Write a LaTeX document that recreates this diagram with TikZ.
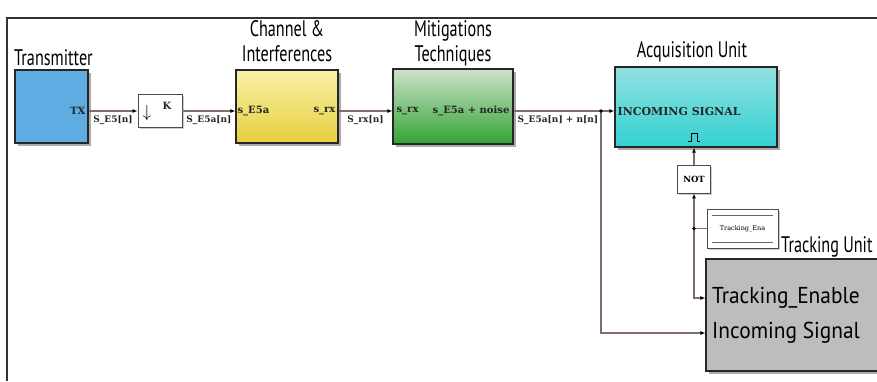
\documentclass[tikz,border=0pt]{standalone}
\usepackage{fontspec}
\setmainfont{DejaVu Serif}
\newfontfamily\titlefont[FakeStretch=0.72]{PT Sans}
\newfontfamily\unitfont[FakeStretch=0.93]{PT Sans}
\usetikzlibrary{arrows.meta}
\usetikzlibrary{shadows}
\definecolor{wirecol}{RGB}{128,110,110}
\definecolor{txblue}{RGB}{95,172,226}
\begin{document}
\begin{tikzpicture}[x=1pt,y=-1pt,
		blocknode/.style={
		% The shape:
		rectangle,
		inner sep=0pt,
		% The border:
		draw=black!85,
		line width=1.2pt,
		% The shadow:
		drop shadow={shadow xshift=2.5pt,shadow yshift=-2.5pt,fill=black!55,opacity=.6}
		},
		plainnode/.style={
		rectangle,
		inner sep=0pt,
		draw=black!70,
		line width=0.9pt,
		fill=white,
		drop shadow={shadow xshift=1.5pt,shadow yshift=-1.5pt,fill=black!40,opacity=.5}
		},
		titlenode/.style={font=\titlefont\fontsize{22.5}{25}\selectfont, align=center, inner sep=0pt},
		unitnode/.style={font=\unitfont\fontsize{23}{27}\selectfont, inner sep=0pt},
		portnode/.style={font=\bfseries\fontsize{10}{11}\selectfont, text=black!85, inner sep=0pt},
		wirelabel/.style={font=\bfseries\fontsize{9}{10}\selectfont, text=black!85, inner sep=0pt},
		wire/.style={draw=wirecol, line width=1.1pt, -{Latex[length=5pt,width=4pt,color=black]}}
	]
	\useasboundingbox (0,0) rectangle (877,381);
	% frame
	\draw[line width=1.2pt, black!80] (7,381) -- (7,18) -- (877,18);

	% blocks
	\node (TX)[blocknode, fill=txblue, minimum width=73pt, minimum height=73pt] at (51.5,106.5) {};
	\node (K)[plainnode, minimum width=44pt, minimum height=33pt] at (160,111) {};
	\node (CH)[blocknode, top color=yellow!30!white!90!brown, bottom color=yellow!55!brown!85, minimum width=102pt, minimum height=73pt] at (287,106.5) {};
	\node (MIT)[blocknode, top color=green!45!black!20!white, bottom color=green!55!black!80, minimum width=120pt, minimum height=75pt] at (453,106.5) {};
	\node (ACQ)[blocknode, top color=cyan!35!white!88!black, bottom color=cyan!55!teal!80, minimum width=162pt, minimum height=80pt] at (696,107) {};
	\node (NOT)[plainnode, minimum width=33pt, minimum height=28pt, font=\bfseries\fontsize{8.5}{9}\selectfont] at (694,179) {NOT};
	\node (ENA)[plainnode, minimum width=71pt, minimum height=39pt, font=\fontsize{6.5}{7}\selectfont,
		path picture={
			\draw[black!60, line width=0.8pt] ([xshift=5pt,yshift=-6pt]path picture bounding box.north west) -- ([xshift=-5pt,yshift=-6pt]path picture bounding box.north east);
			\draw[black!60, line width=0.8pt] ([xshift=5pt,yshift=6pt]path picture bounding box.south west) -- ([xshift=-5pt,yshift=6pt]path picture bounding box.south east);
		}] at (742.5,228.5) {Tracking\_Ena};
	\node (TRK)[blocknode, fill=black!26, minimum width=172pt, minimum height=112pt] at (792,315) {};

	% titles
	\node (tTX)[titlenode, anchor=base west] at (14,65) {Transmitter};
	\node (tCH)[titlenode, anchor=base] at (287,61) {Channel \&\\Interferences};
	\node (tMIT)[titlenode, anchor=base] at (453,61) {Mitigations\\Techniques};
	\node (tACQ)[titlenode, anchor=base] at (692,57) {Acquisition Unit};
	\node (tTRK)[titlenode, anchor=base west] at (781,252) {Tracking Unit};

	% ports
	\node (pTX)[portnode, anchor=east] at ([xshift=-3pt]TX.east |- K.west) {TX};
	\node (pK1) at (147,113) {\fontsize{18}{18}\selectfont$\downarrow$};
	\node (pK2)[portnode] at (167,106) {K};
	\node (pCH1)[portnode, anchor=west] at ([xshift=2pt]CH.west |- K.west) {s\_E5a};
	\node (pCH2)[portnode, anchor=east] at ([xshift=-3pt]CH.east |- K.west) {s\_rx};
	\node (pMIT1)[portnode, anchor=west] at ([xshift=4pt]MIT.west |- K.west) {s\_rx};
	\node (pMIT2)[portnode, anchor=east] at ([xshift=-4pt]MIT.east |- K.west) {s\_E5a + noise};
	\node (pACQ)[portnode, anchor=west, font=\bfseries\fontsize{11}{12}\selectfont] at ([xshift=3pt]ACQ.west |- K.west) {INCOMING SIGNAL};
	\node (pEN)[unitnode, anchor=west] at (712,298) {Tracking\_Enable};
	\node (pIN)[unitnode, anchor=west] at (712,333) {Incoming Signal};
	% enable pulse
	\draw[line width=1pt] (688,141) -- (691,141) -- (691,133) -- (697,133) -- (697,141) -- (700,141);

	% wires
	\coordinate (S1) at (601,111);
	\coordinate (S2) at (NOT.south |- ENA.west);
	\draw[wire] (TX.east |- K.west) -- node[wirelabel, below=4pt] {S\_E5[n]} (K.west);
	\draw[wire] (K.east) -- node[wirelabel, below=4pt] {S\_E5a[n]} (CH.west |- K.east);
	\draw[wire] (CH.east |- K.east) -- node[wirelabel, below=4pt] {S\_rx[n]} (MIT.west |- K.east);
	\draw[wire] (MIT.east |- K.east) -- node[wirelabel, below=4pt, pos=0.44] {S\_E5a[n] + n[n]} (ACQ.west |- K.east);
	\draw[wire] (S1) |- (TRK.west |- pIN);
	\draw[wire] (NOT.north) -- (NOT.north |- ACQ.south);
	\draw[wire] (S2) -- (NOT.south);
	\draw[wire] (S2) |- (TRK.west |- pEN);
	\draw[draw=wirecol, line width=1.1pt] (ENA.west) -- (S2);
	\fill (S1) circle (1.8pt);
	\fill (S2) circle (1.8pt);
\end{tikzpicture}
\end{document}
